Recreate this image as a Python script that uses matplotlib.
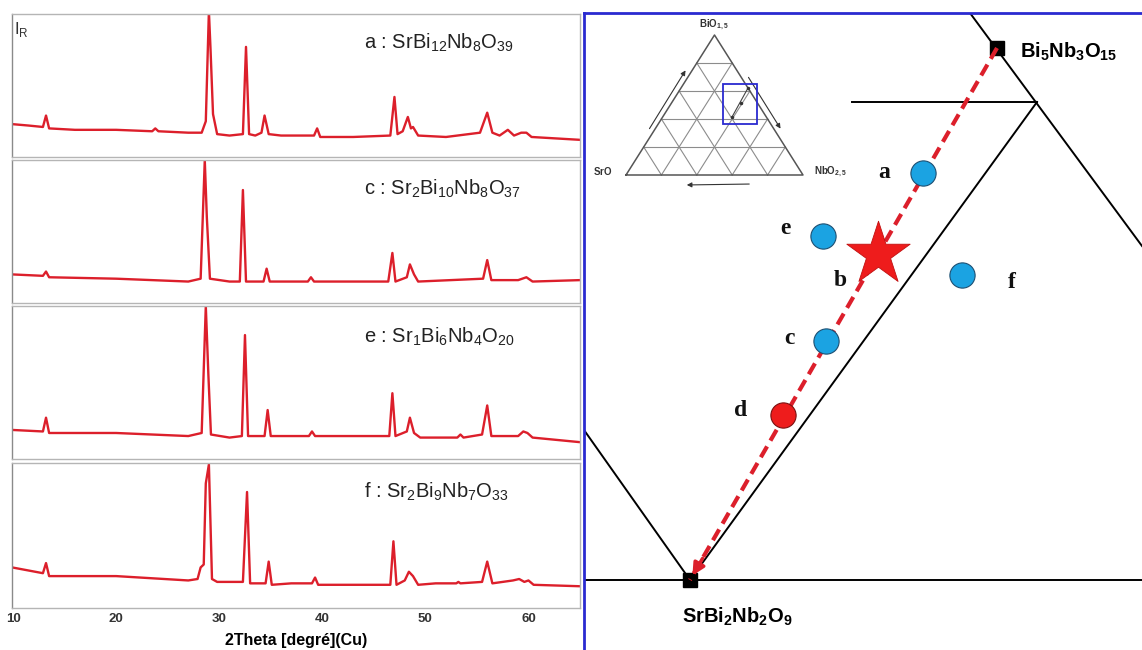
import numpy as np
import matplotlib
matplotlib.use("Agg")
import matplotlib.pyplot as plt

plt.rcParams['font.family'] = ['Liberation Sans', 'DejaVu Sans']
plt.rcParams['mathtext.fontset'] = 'custom'
plt.rcParams['mathtext.rm'] = 'Liberation Sans'
plt.rcParams['mathtext.bf'] = 'Liberation Sans:bold'

# ---- XRD patterns (2theta, relative intensity) ----
a_tt = [9.9, 11.5, 12.9, 13.2, 13.5, 16, 20, 23.5, 23.8, 24.1, 27, 28.3, 28.7, 29.0, 29.15, 29.4, 29.8,
        31, 32.3, 32.6, 32.9, 33.5, 34.1, 34.4, 34.8, 36, 39.2, 39.5, 39.8, 43, 46.6, 47.0, 47.3,
        47.8, 48.3, 48.6, 48.8, 49.3, 52, 55.3, 56.0, 56.5, 57.2, 58, 58.6, 59.3, 59.8, 60.3, 65]
a_I = [23, 22, 21, 29, 20, 19, 19, 18, 20, 18, 17, 17, 25, 102, 77, 30, 16,
       15, 16, 77, 16, 15, 17, 29, 16, 15, 15, 20, 14, 14, 15, 42, 16,
       18, 28, 20, 21, 15, 14, 17, 31, 17, 15, 19, 15, 17, 17, 14, 12]

c_tt = [9.9, 12.9, 13.2, 13.5, 20, 27, 28.2, 28.6, 28.8, 29.1, 31, 32.0, 32.3, 32.6, 34.3, 34.6, 34.9,
        38.6, 38.9, 39.2, 46.4, 46.8, 47.1, 48.2, 48.5, 48.9, 49.3, 55.6, 56.0, 56.4, 59, 59.8, 60.4, 65]
c_I = [20, 19, 22, 18, 17, 15, 17, 100, 60, 17, 15, 15, 79, 15, 15, 24, 15,
       15, 18, 15, 15, 35, 15, 18, 27, 20, 15, 17, 30, 16, 16, 18, 15, 16]

e_tt = [9.9, 12.9, 13.2, 13.5, 20, 27, 28.3, 28.7, 28.95, 29.2, 31, 32.2, 32.5, 32.8, 34.4, 34.7, 35.0,
        38.7, 39.0, 39.3, 46.5, 46.8, 47.1, 48.2, 48.5, 48.9, 49.5, 53.1, 53.4, 53.7, 55.5, 56.0, 56.4,
        59.0, 59.5, 59.9, 60.4, 65]
e_I = [19, 18, 27, 17, 17, 15, 17, 100, 55, 16, 14, 15, 81, 15, 15, 32, 15,
       15, 18, 15, 15, 43, 15, 18, 27, 17, 14, 14, 16, 14, 16, 35, 15,
       15, 18, 17, 14, 11]

f_tt = [9.9, 12.9, 13.2, 13.5, 20, 27, 27.9, 28.2, 28.5, 28.7, 29.0, 29.3, 29.8, 32.3, 32.7, 33.0,
        34.5, 34.8, 35.1, 37, 39.0, 39.3, 39.6, 44, 46.6, 46.9, 47.2, 48.0, 48.4, 48.8, 49.3, 51,
        53.0, 53.2, 53.4, 55.5, 56.0, 56.5, 58.5, 59.1, 59.6, 60.0, 60.5, 65]
f_I = [28, 24, 31, 22, 22, 19, 20, 28, 30, 86, 99, 20, 18, 18, 80, 17,
       17, 32, 16, 17, 17, 21, 16, 16, 16, 46, 16, 19, 25, 22, 16, 17,
       17, 18, 17, 18, 32, 17, 19, 20, 18, 19, 16, 15]

patterns = [(a_tt, a_I), (c_tt, c_I), (e_tt, e_I), (f_tt, f_I)]
titles = [r'a : SrBi$_{12}$Nb$_8$O$_{39}$', r'c : Sr$_2$Bi$_{10}$Nb$_8$O$_{37}$',
          r'e : Sr$_1$Bi$_6$Nb$_4$O$_{20}$', r'f : Sr$_2$Bi$_9$Nb$_7$O$_{33}$']
xticks = [10, 20, 30, 40, 50, 60]
# panel extents in pixels (top, bottom)
panel_px = [(14, 157), (160, 303), (306, 459), (463, 608)]

# ---- phase diagram (drawn in picture pixel space) ----
edge_left = ([584, 690], [430, 580])
edge_base = ([584, 1142], [580, 580])
edge_right = ([690, 1037], [580, 102])
edge_top = ([852, 1037], [102, 102])
edge_outer = ([970, 1142], [13, 246])
tie_x = [997, 690]
tie_y = [48, 580]
comp_names = ['a', 'e', 'f', 'c']
comp_x = [923, 823, 962, 826]
comp_y = [173, 236, 275, 341]
d_xy = (783, 415)
b_xy = (878, 254)
letters = ['a', 'e', 'b', 'f', 'c', 'd']
letter_x = [884, 785, 840, 1012, 789, 741]
letter_y = [173, 228, 280, 282, 339, 410]

# inset ternary
tri_S = np.array([626.0, 175.0])
tri_N = np.array([803.0, 175.0])
tri_B = np.array([714.5, 35.0])
zoom_box = (723, 84, 34, 40)

W, H = 1142, 650
fig = plt.figure(figsize=(11.42, 6.5), dpi=100)

red = '#dc1f2b'
for i, ((tt, I), title, (top, bot)) in enumerate(zip(patterns, titles, panel_px)):
    ax = fig.add_axes([12 / W, 1 - bot / H, 568 / W, (bot - top) / H])
    ax.plot(tt, I, color=red, lw=1.7)
    ax.set_xlim(9.9, 65)
    ax.set_ylim(0, 100)
    ax.set_yticks([])
    for s in ax.spines.values():
        s.set_color('#b5b5b5')
        s.set_linewidth(1.0)
    ax.spines['left'].set_color('#8a8a8a')
    ax.text(0.62, 0.76, title, transform=ax.transAxes, fontsize=14.5, color='#222222')
    ax.set_xticks(xticks)
    ax.tick_params(axis='x', length=0)
    if i < 3:
        ax.set_xticklabels([])
    else:
        ax.set_xticklabels([str(t) for t in xticks], fontweight='bold', fontsize=9.5, color='#333333')
        ax.set_xlabel('2Theta [degré](Cu)', fontweight='bold', fontsize=11.5, labelpad=6)
    if i == 0:
        ax.text(0.004, 0.86, r'I$_\mathrm{R}$', transform=ax.transAxes, fontsize=12,
                color='#333333')

# right panel
ax2 = fig.add_axes([584 / W, 0, 558 / W, 637 / H])
ax2.set_xlim(584, 1142)
ax2.set_ylim(650, 13)
ax2.set_xticks([])
ax2.set_yticks([])
for k in ['right', 'bottom']:
    ax2.spines[k].set_visible(False)
for k in ['left', 'top']:
    ax2.spines[k].set_color('#2a2ad0')
    ax2.spines[k].set_linewidth(2)

for ex, ey in [edge_left, edge_base, edge_right, edge_top, edge_outer]:
    ax2.plot(ex, ey, color='black', lw=1.4)

ax2.plot(tie_x, tie_y, color=red, lw=3, dashes=(3, 1.6), zorder=3)
ax2.annotate('', xy=(tie_x[1] + 1, tie_y[1] - 2), xytext=(tie_x[1] + 14, tie_y[1] - 24),
             arrowprops=dict(arrowstyle='-|>', color=red, lw=2.5, mutation_scale=18), zorder=4)
ax2.plot([tie_x[0], tie_x[1]], [tie_y[0], tie_y[1]], 's', color='black', ms=10, zorder=2)

ax2.scatter(comp_x, comp_y, s=330, color='#1ba3e2', edgecolor='#1d4f72', lw=0.8, zorder=5)
ax2.scatter([d_xy[0]], [d_xy[1]], s=330, color='#ee1c1c', edgecolor='#7a1010', lw=0.8, zorder=5)
ax2.scatter([b_xy[0]], [b_xy[1]], s=2300, marker='*', color='#ee1c1c', edgecolor='#c01010',
            lw=0.6, zorder=6)
for t, x, y in zip(letters, letter_x, letter_y):
    ax2.text(x, y, t, fontsize=17, fontweight='bold', family='Liberation Serif',
             ha='center', va='center', color='#111111')

ax2.text(1020, 52, r'$\mathbf{Bi_5Nb_3O_{15}}$', fontsize=14.5, va='center', ha='left')
ax2.text(737, 617, r'$\mathbf{SrBi_2Nb_2O_9}$', fontsize=14.5, va='center', ha='center')

# inset ternary diagram
for i in range(1, 5):
    t = i / 5
    p1 = tri_S + (tri_B - tri_S) * t
    p2 = tri_N + (tri_B - tri_N) * t
    ax2.plot([p1[0], p2[0]], [p1[1], p2[1]], color='#8c8c8c', lw=0.8)
    q = tri_S + (tri_N - tri_S) * t
    q1 = q + (tri_B - tri_S) * (1 - t)
    q2 = q + (tri_B - tri_N) * t
    ax2.plot([q[0], q1[0]], [q[1], q1[1]], color='#8c8c8c', lw=0.8)
    ax2.plot([q[0], q2[0]], [q[1], q2[1]], color='#8c8c8c', lw=0.8)
tri = np.array([tri_S, tri_N, tri_B, tri_S])
ax2.plot(tri[:, 0], tri[:, 1], color='#555555', lw=1.1)
ax2.add_patch(plt.Rectangle((zoom_box[0], zoom_box[1]), zoom_box[2], zoom_box[3],
                            fill=False, ec='#2a2ad0', lw=1.3, zorder=4))
ax2.plot([748, 732], [88, 117], color='#444444', lw=0.8, zorder=5)
ax2.plot([748, 741, 732], [88, 103, 117], '.', color='#333333', ms=3, zorder=5)
ax2.annotate('', xy=(687, 68), xytext=(648, 131),
             arrowprops=dict(arrowstyle='-|>', color='#333333', lw=0.8, mutation_scale=7))
ax2.annotate('', xy=(782, 131), xytext=(747, 75),
             arrowprops=dict(arrowstyle='-|>', color='#333333', lw=0.8, mutation_scale=7))
ax2.annotate('', xy=(684, 185), xytext=(752, 184),
             arrowprops=dict(arrowstyle='-|>', color='#333333', lw=0.8, mutation_scale=7))
ax2.text(714, 25, r'$\mathbf{BiO_{1,5}}$', fontsize=7, ha='center', va='center', color='#333333')
ax2.text(603, 171, r'$\mathbf{SrO}$', fontsize=7, ha='center', va='center', color='#333333')
ax2.text(831, 172, r'$\mathbf{NbO_{2,5}}$', fontsize=7, ha='center', va='center', color='#333333')

fig.savefig('out.png', dpi=100)
